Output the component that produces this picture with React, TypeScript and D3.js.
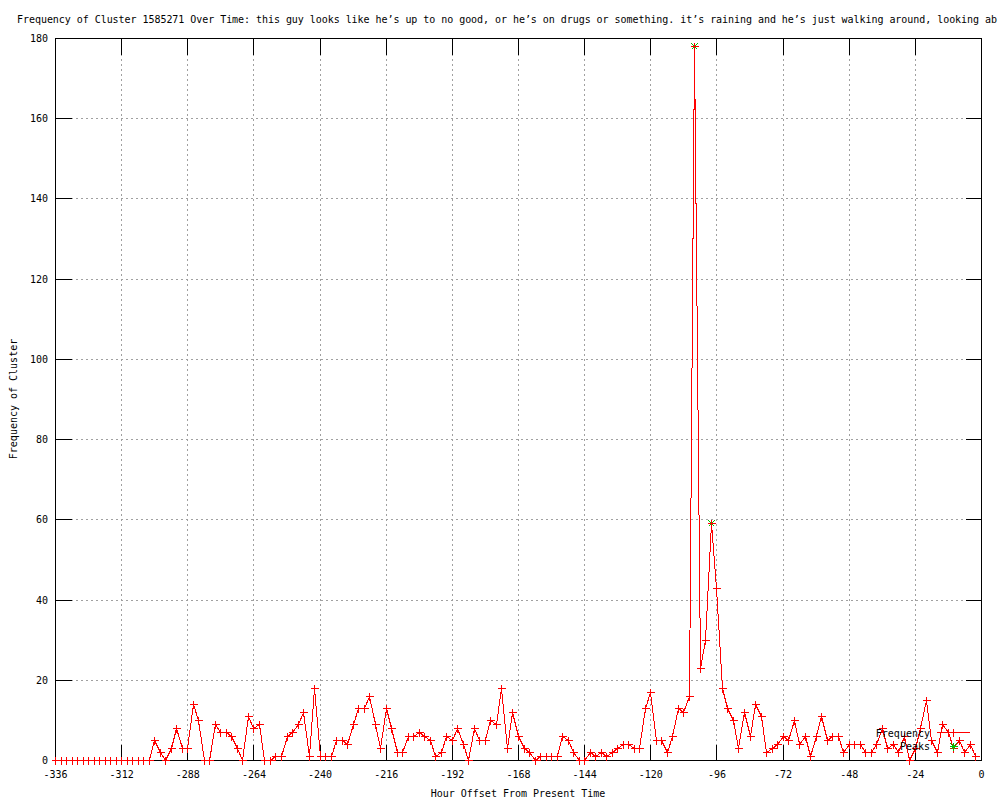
import React from 'react';
import * as d3 from 'd3';

// hourly buckets, 2 hours apart
const hours = d3.range(-336, 0, 2);
const frequency = [
  0, 0, 0, 0, 0, 0, 0, 0, 0, 0, 0, 0,
  0, 0, 0, 0, 0, 0, 5, 2, 0, 3, 8, 3,
  3, 14, 10, 0, 0, 9, 7, 7, 6, 3, 0, 11,
  8, 9, 0, 0, 1, 1, 6, 7, 9, 12, 1, 18,
  1, 1, 1, 5, 5, 4, 9, 13, 13, 16, 9, 3,
  13, 8, 2, 2, 6, 6, 7, 6, 5, 1, 2, 6,
  5, 8, 4, 0, 8, 5, 5, 10, 9, 18, 3, 12,
  6, 3, 2, 0, 1, 1, 1, 1, 6, 5, 2, 0,
  0, 2, 1, 2, 1, 2, 3, 4, 4, 3, 3, 13,
  17, 5, 5, 2, 6, 13, 12, 16, 178, 23, 30, 59,
  43, 18, 13, 10, 3, 12, 6, 14, 11, 2, 3, 4,
  6, 5, 10, 4, 6, 1, 6, 11, 5, 6, 6, 2,
  4, 4, 4, 2, 2, 4, 8, 3, 4, 2, 6, 0,
  3, 8, 15, 5, 2, 9, 7, 3, 5, 2, 4, 1,
];
const peakHours = [-104, -98];
const peakValues = [178, 59];
const xTicks = [-336, -312, -288, -264, -240, -216, -192, -168, -144, -120, -96, -72, -48, -24, 0];
const yTicks = [0, 20, 40, 60, 80, 100, 120, 140, 160, 180];

// the title runs off the right edge in the original; only the visible part is kept
const title =
  'Frequency of Cluster 1585271 Over Time: this guy looks like he\u2019s up to no good, or he\u2019s on drugs or something. it\u2019s raining and he\u2019s just walking around, looking ab';

const font = '"DejaVu Sans Mono", monospace';
const red = '#ff0000';
const green = '#00c000';
const tickLen = 16;

const px = (v: number) => Math.round(v - 0.5) + 0.5;

const plus = (cx: number, cy: number, r = 4) => {
  const x = px(cx), y = px(cy);
  return `M${x - r},${y}H${x + r}M${x},${y - r}V${y + r}`;
};
const star = (cx: number, cy: number, r = 4) => {
  const x = px(cx), y = px(cy);
  return plus(cx, cy, r) + `M${x - r + 1},${y - r + 1}L${x + r - 1},${y + r - 1}M${x - r + 1},${y + r - 1}L${x + r - 1},${y - r + 1}`;
};

export default function App() {
  const x = d3.scaleLinear().domain([-336, 0]).range([55.5, 981.5]);
  const y = d3.scaleLinear().domain([0, 180]).range([760.5, 38.5]);
  const [x0, x1] = x.range();
  const [y0, y1] = y.range();

  const line = d3.line<number>()
    .x((d, i) => px(x(hours[i])))
    .y(d => px(y(d)));

  return (
    <svg width={1000} height={800} style={{ position: 'absolute', left: 0, top: 0, background: '#fff' }}
      fontFamily={font} fontSize={10}>
      <rect width={1000} height={800} fill="#fff" />
      {/* grid */}
      <g stroke="#a0a0a0" strokeDasharray="2,3" shapeRendering="crispEdges">
        {xTicks.slice(1, -1).map(t => (
          <line key={'gx' + t} x1={px(x(t))} x2={px(x(t))} y1={y1} y2={y0} />
        ))}
        {yTicks.slice(1, -1).map(t => (
          <line key={'gy' + t} x1={x0} x2={x1} y1={px(y(t))} y2={px(y(t))} />
        ))}
      </g>
      {/* ticks on all four sides */}
      <g stroke="#000" shapeRendering="crispEdges">
        {xTicks.map(t => (
          <g key={'tx' + t}>
            <line x1={px(x(t))} x2={px(x(t))} y1={y0} y2={y0 - tickLen} />
            <line x1={px(x(t))} x2={px(x(t))} y1={y1} y2={y1 + tickLen} />
          </g>
        ))}
        {yTicks.map(t => (
          <g key={'ty' + t}>
            <line x1={x0} x2={x0 + tickLen} y1={px(y(t))} y2={px(y(t))} />
            <line x1={x1} x2={x1 - tickLen} y1={px(y(t))} y2={px(y(t))} />
          </g>
        ))}
        <rect x={x0} y={y1} width={x1 - x0} height={y0 - y1} fill="none" />
      </g>
      {/* tick labels */}
      <g fill="#000">
        {xTicks.map(t => (
          <text key={'lx' + t} x={x(t)} y={778} textAnchor="middle">{t}</text>
        ))}
        {yTicks.map(t => (
          <text key={'ly' + t} x={48} y={y(t) + 3.5} textAnchor="end">{t}</text>
        ))}
      </g>
      {/* axis labels and title */}
      <text x={518} y={797} textAnchor="middle">Hour Offset From Present Time</text>
      <text transform="translate(17,399) rotate(-90)" textAnchor="middle">Frequency of Cluster</text>
      <text x={17} y={23} textLength={980} lengthAdjust="spacing">{title}</text>
      {/* peaks */}
      <g stroke={green} fill="none" shapeRendering="crispEdges">
        {peakHours.map((h, i) => (
          <path key={'pk' + h} d={star(x(h), y(peakValues[i]))} />
        ))}
      </g>
      {/* frequency series */}
      <path d={line(frequency) || ''} fill="none" stroke={red} strokeWidth={1} shapeRendering="crispEdges" />
      <g stroke={red} fill="none" shapeRendering="crispEdges">
        {frequency.map((v, i) => (
          <path key={'pt' + i} d={plus(x(hours[i]), y(v))} />
        ))}
      </g>
      {/* key */}
      <text x={930} y={736.5} textAnchor="end">Frequency</text>
      <line x1={937} x2={970} y1={732.5} y2={732.5} stroke={red} shapeRendering="crispEdges" />
      <path d={plus(953.5, 732.5)} stroke={red} fill="none" shapeRendering="crispEdges" />
      <text x={930} y={749.5} textAnchor="end">Peaks</text>
      <path d={star(953.5, 746.5)} stroke={green} fill="none" shapeRendering="crispEdges" />
    </svg>
  );
}
